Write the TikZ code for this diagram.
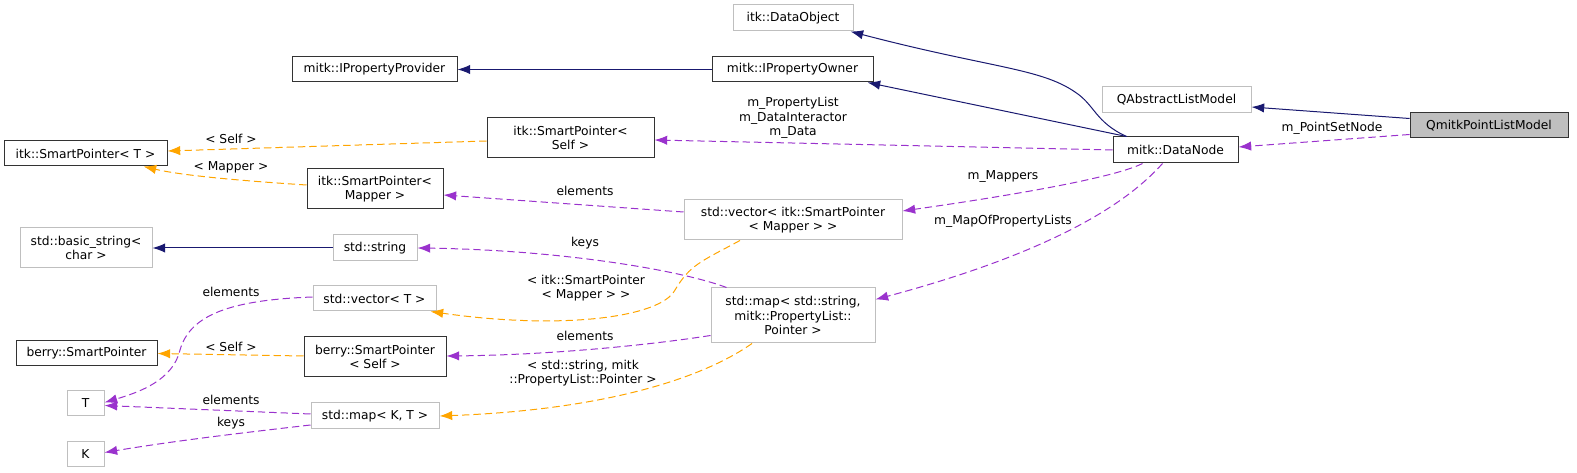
\documentclass[tikz,border=0pt]{standalone}
\usepackage{fontspec}
\setmainfont{DejaVu Sans}
\usetikzlibrary{arrows.meta,calc,positioning}

\definecolor{edgeblue}{HTML}{191970}
\definecolor{usecol}{HTML}{9A32CD}
\definecolor{tmplcol}{HTML}{FFA500}
\definecolor{hlfill}{HTML}{BFBFBF}

\begin{document}
\begin{tikzpicture}[x=0.75pt,y=-0.75pt,>={Latex[length=9.5pt,width=7pt]},font=\fontsize{9.2}{11}\selectfont]
	\tikzstyle{block} = [draw=black!80, rectangle, line width=0.75pt, inner sep=0pt, align=center]
	\tikzstyle{ext} = [block, draw=black!25]
	\tikzstyle{lbl} = [align=center, inner sep=0pt]
	\tikzstyle{inh} = [->, draw=edgeblue, line width=0.75pt]
	\tikzstyle{use} = [->, draw=usecol, line width=0.75pt, dash pattern=on 5.5pt off 3pt]
	\tikzstyle{tmpl} = [->, draw=tmplcol, line width=0.75pt, dash pattern=on 5.5pt off 3pt]
	\tikzset{wh/.style 2 args={minimum width=#1*0.75pt, minimum height=#2*0.75pt}}
	\useasboundingbox (0,0) rectangle (1577,473);

	% classes
	\node [ext, wh={120}{26}] (dataobj) at (793,18) {itk::DataObject};
	\node [block, wh={161}{25}] (propowner) at (792.5,69.5) {mitk::IPropertyOwner};
	\node [block, wh={165}{25}] (propprov) at (374.5,69.5) {mitk::IPropertyProvider};
	\node [block, wh={167}{40}] (spself) at (570.5,138) {itk::SmartPointer<\\Self >};
	\node [block, wh={163}{25}] (spT) at (85.5,153.5) {itk::SmartPointer< T >};
	\node [block, wh={136}{40}] (spmapper) at (375,189) {itk::SmartPointer<\\Mapper >};
	\node [ext, wh={132}{40}] (bstring) at (86,248) {std::basic\_string<\\char >};
	\node [ext, wh={84}{26}] (string) at (375,248) {std::string};
	\node [ext, wh={123}{25}] (vecT) at (374.5,298.5) {std::vector< T >};
	\node [block, wh={141}{25}] (berrysp) at (86.5,353.5) {berry::SmartPointer};
	\node [block, wh={142}{40}] (berryself) at (375,357) {berry::SmartPointer\\< Self >};
	\node [ext, wh={37}{25}] (T) at (85.5,403.5) {T};
	\node [ext, wh={128}{26}] (mapKT) at (375,416) {std::map< K, T >};
	\node [ext, wh={37}{25}] (K) at (85.5,454.5) {K};
	\node [ext, wh={218}{40}] (vecsp) at (793,220) {std::vector< itk::SmartPointer\\< Mapper > >};
	\node [ext, wh={164}{55}] (mapstr) at (793,315.5) {std::map< std::string,\\mitk::PropertyList::\\Pointer >};
	\node [ext, wh={149}{26}] (qabs) at (1176.5,100) {QAbstractListModel};
	\node [block, fill=hlfill, wh={158}{25}] (qmitk) at (1489,125.5) {QmitkPointListModel};
	\node [block, wh={125}{26}] (datanode) at (1175.5,150) {mitk::DataNode};

	% inheritance
	\draw [inh] ($(qmitk.west)+(0,-7)$) -- ($(qabs.east)+(0,7)$);
	\draw [inh] ($(datanode.north)+(-49,0)$) .. controls (1095,122) and (1095,105) .. (1075,92)
		.. controls (1040,68) and (990,68) .. ($(dataobj.south east)+(-3,0)$);
	\draw [inh] ($(datanode.north)+(-49,0)$) -- ($(propowner.south east)+(-6,0)$);
	\draw [inh] (propowner) -- (propprov);
	\draw [inh] (string) -- (bstring);

	% usage
	\draw [use] ($(qmitk.west)+(0,9)$) -- ($(datanode.east)+(0,-3)$);
	\draw [use] (datanode.west) -- ($(spself.east)+(0,2)$);
	\draw [use] ($(datanode.south)+(-33,0)$) .. controls (1110,180) and (980,200) .. ($(vecsp.east)+(0,-9)$);
	\draw [use] ($(datanode.south)+(-13,0)$) .. controls (1130,200) and (1060,250) .. ($(mapstr.east)+(0,-16)$);
	\draw [use] ($(vecsp.west)+(0,-8)$) -- ($(spmapper.east)+(0,6)$);
	\draw [use] ($(mapstr.north west)+(16,0)$) .. controls (680,270) and (560,250) .. (string.east);
	\draw [use] ($(mapstr.west)+(0,20)$) .. controls (650,345) and (550,355) .. ($(berryself.east)+(0,-1)$);
	\draw [use] ($(vecT.west)+(0,-1.5)$) .. controls (230,300) and (190,315) .. (180,350)
		.. controls (173,380) and (140,392) .. ($(T.east)+(0,-1)$);
	\draw [use] ($(mapKT.west)+(0,-2)$) -- ($(T.east)+(0,2)$);
	\draw [use] ($(mapKT.west)+(0,9)$) .. controls (250,432) and (180,440) .. ($(K.east)+(0,-2)$);

	% templates
	\draw [tmpl] ($(spself.west)+(0,3)$) -- ($(spT.east)+(0,-2.5)$);
	\draw [tmpl] ($(spmapper.west)+(0,-4)$) .. controls (230,180) and (180,175) .. ($(spT.south east)+(-24,0)$);
	\draw [tmpl] ($(berryself.west)+(0,-1)$) -- (berrysp.east);
	\draw [tmpl] ($(vecsp.south)+(-53,0)$) .. controls (700,262) and (690,265) .. (675,290)
		.. controls (660,318) and (560,330) .. ($(vecT.south east)+(-6,0)$);
	\draw [tmpl] ($(mapstr.south)+(-41,0)$) .. controls (700,380) and (600,410) .. (mapKT.east);

	% labels
	\node [lbl] (lpointset) at (1332,128) {m\_PointSetNode};
	\node [lbl] (lprops) at (793,118) {m\_PropertyList\\m\_DataInteractor\\m\_Data};
	\node [lbl] (lmappers) at (1003,176) {m\_Mappers};
	\node [lbl] (lmapof) at (1003,221) {m\_MapOfPropertyLists};
	\node [lbl] (lself1) at (231,139) {< Self >};
	\node [lbl] (lmapper) at (231,167) {< Mapper >};
	\node [lbl] (lelem1) at (585,191) {elements};
	\node [lbl] (lkeys1) at (585,243) {keys};
	\node [lbl] (ltmplsp) at (586,288) {< itk::SmartPointer\\< Mapper > >};
	\node [lbl] (lelem2) at (585,336) {elements};
	\node [lbl] (ltmplstr) at (583,373) {< std::string, mitk\\::PropertyList::Pointer >};
	\node [lbl] (lself2) at (231,347) {< Self >};
	\node [lbl] (lelem3) at (231,292) {elements};
	\node [lbl] (lelem4) at (231,400) {elements};
	\node [lbl] (lkeys2) at (231,423) {keys};
\end{tikzpicture}
\end{document}
